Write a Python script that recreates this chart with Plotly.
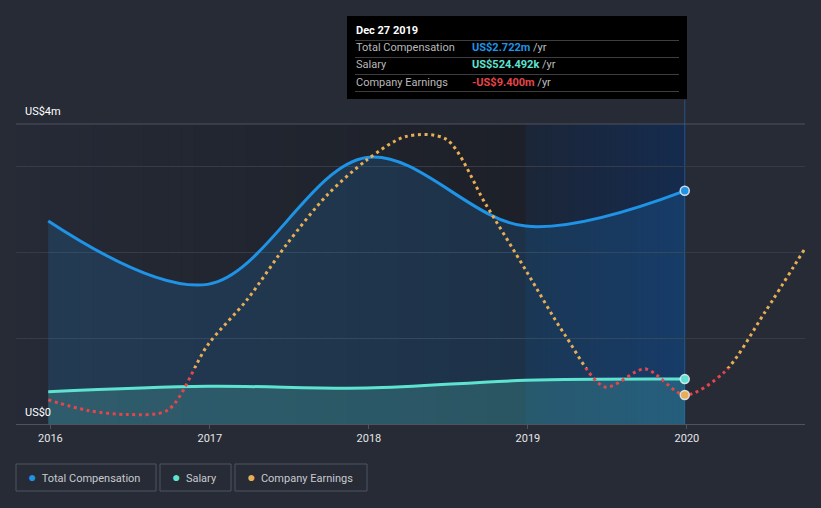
import plotly.graph_objects as go
import pandas as pd

# ---------------- data (US$ millions) ----------------
comp_dates = ["2015-12-27", "2016-12-27", "2017-12-27", "2018-12-27", "2019-12-27"]
total_comp = [2.37, 1.63, 3.11, 2.31, 2.722]
salary = [0.377, 0.44, 0.42, 0.51, 0.524]

earn_dates = ["2015-12-27", "2016-03-27", "2016-06-27", "2016-09-27", "2016-12-27",
              "2017-03-27", "2017-06-27", "2017-09-27", "2017-12-27", "2018-03-27",
              "2018-06-27", "2018-09-27", "2018-12-27", "2019-03-27", "2019-06-27",
              "2019-09-27", "2019-12-27", "2020-03-27", "2020-06-27", "2020-09-27"]
earnings = [-11.1, -14.8, -16.2, -14.6, 8.0,
            23.7, 43.2, 60.2, 72.4, 80.6,
            79.7, 56.8, 34.1, 11.5, -6.6,
            -0.35, -9.4, -1.4, 19.2, 41.4]

tick_dates = ["2016-01-01", "2017-01-01", "2018-01-01", "2019-01-01", "2020-01-01"]
tick_labels = ["2016", "2017", "2018", "2019", "2020"]
y_labels = ["US$4m", "US$0"]

hover_date = "Dec 27 2019"
hover_rows = [("Total Compensation", "US$2.722m"), ("Salary", "US$524.492k"),
              ("Company Earnings", "-US$9.400m")]

# ---------------- style ----------------
BG = "#262b36"
C_COMP = "#1f93e6"
C_SAL = "#5ee3d0"
C_EARN = "#e8ae55"
C_NEG = "#e5454b"
FONT = "Roboto"

W, H = 821, 508
ML, MR, MT, MB = 16, 16, 124, 84
PW, PH = W - ML - MR, H - MT - MB
ZERO_PX = 368          # pixel row of earnings zero
EARN_PPM = 2.872       # pixels per US$m for earnings
zf = (H - MB - ZERO_PX) / PH
y3_lo = -(H - MB - ZERO_PX) / EARN_PPM
y2_hi = (ZERO_PX - MT) / EARN_PPM


def px(x):
    return (x - ML) / PW


def py(y):
    return (H - MB - y) / PH


x_range = ["2015-10-14", "2020-09-28"]

fig = go.Figure()

# compensation area + line
fig.add_trace(go.Scatter(x=comp_dates, y=total_comp, mode="lines",
                         line=dict(color=C_COMP, width=3, shape="spline", smoothing=1.0),
                         fill="tozeroy", fillcolor="rgba(33,150,243,0.16)",
                         hoverinfo="skip", showlegend=False))
fig.add_trace(go.Scatter(x=comp_dates, y=salary, mode="lines",
                         line=dict(color=C_SAL, width=3, shape="spline", smoothing=1.0),
                         fill="tozeroy", fillcolor="rgba(94,230,208,0.20)",
                         hoverinfo="skip", showlegend=False))

# earnings: orange above zero (y2 domain), red below zero (y3 domain)
EARN_SMOOTH = 0.85
fig.add_trace(go.Scatter(x=earn_dates, y=earnings, mode="lines", yaxis="y2",
                         line=dict(color=C_EARN, width=3, dash="3px,3.6px",
                                   shape="spline", smoothing=EARN_SMOOTH),
                         hoverinfo="skip", showlegend=False))
fig.add_trace(go.Scatter(x=earn_dates, y=earnings, mode="lines", yaxis="y3",
                         line=dict(color=C_NEG, width=3, dash="3px,3.6px",
                                   shape="spline", smoothing=EARN_SMOOTH),
                         hoverinfo="skip", showlegend=False))

# hover markers at last comp date
mk_line = dict(color="rgba(225,235,245,0.9)", width=1.5)
fig.add_trace(go.Scatter(x=[comp_dates[-1]], y=[total_comp[-1]], mode="markers",
                         marker=dict(size=9, color=C_COMP, line=mk_line),
                         cliponaxis=False, hoverinfo="skip", showlegend=False))
fig.add_trace(go.Scatter(x=[comp_dates[-1]], y=[salary[-1]], mode="markers",
                         marker=dict(size=9, color=C_SAL, line=mk_line),
                         cliponaxis=False, hoverinfo="skip", showlegend=False))
fig.add_trace(go.Scatter(x=[earn_dates[16]], y=[earnings[16]], mode="markers", yaxis="y3",
                         marker=dict(size=9, color=C_EARN, line=mk_line),
                         cliponaxis=False, hoverinfo="skip", showlegend=False))

shapes = []


def strips(start, end, c0, c1, n):
    edges = pd.date_range(start, end, periods=n + 1)
    out = []
    for i in range(n):
        t = i / (n - 1)
        c = tuple(int(round(c0[k] + (c1[k] - c0[k]) * t)) for k in range(3))
        x1 = edges[i + 1] + pd.Timedelta(days=1) if i < n - 1 else edges[i + 1]
        out.append(dict(type="rect", xref="x", yref="paper",
                        x0=str(edges[i].date()), x1=str(x1.date()), y0=0, y1=1,
                        fillcolor="rgb(%d,%d,%d)" % c, line_width=0, layer="below"))
    return out


shapes += strips(x_range[0], comp_dates[3], (37, 42, 54), (29, 32, 40), 40)
shapes += strips(comp_dates[3], comp_dates[4], (27, 38, 56), (21, 43, 78), 30)

# top border line
shapes.append(dict(type="line", xref="paper", yref="paper", x0=0, x1=1, y0=1, y1=1,
                   line=dict(color="rgb(78,83,96)", width=1), layer="below"))
# hover vertical line
shapes.append(dict(type="line", xref="x", yref="paper", x0=comp_dates[-1], x1=comp_dates[-1],
                   y0=0, y1=py(100), line=dict(color="rgba(40,110,190,0.6)", width=1),
                   layer="below"))

# tooltip box
shapes.append(dict(type="rect", xref="paper", yref="paper", x0=px(347), x1=px(687),
                   y0=py(99), y1=py(16), fillcolor="#000000", line_width=0))
for ys in [40.5, 57.5, 74.5, 91.5]:
    shapes.append(dict(type="line", xref="paper", yref="paper", x0=px(355), x1=px(679),
                       y0=py(ys), y1=py(ys), line=dict(color="rgb(62,62,62)", width=1)))

annotations = []
annotations.append(dict(xref="paper", yref="paper", x=px(354), y=py(31), xanchor="left",
                        yanchor="middle", showarrow=False, text="<b>%s</b>" % hover_date,
                        font=dict(family=FONT, size=11, color="#ffffff")))
val_colors = [C_COMP, C_SAL, C_NEG]
for i, (lab, val) in enumerate(hover_rows):
    yc = 48 + i * 17
    annotations.append(dict(xref="paper", yref="paper", x=px(354), y=py(yc), xanchor="left",
                            yanchor="middle", showarrow=False, text=lab,
                            font=dict(family=FONT, size=11, color="rgb(185,185,185)")))
    annotations.append(dict(xref="paper", yref="paper", x=px(470), y=py(yc), xanchor="left",
                            yanchor="middle", showarrow=False,
                            text="<b><span style='color:%s'>%s</span></b> /yr" % (val_colors[i], val),
                            font=dict(family=FONT, size=11, color="rgb(190,190,190)")))

# y labels
annotations.append(dict(xref="paper", yref="paper", x=px(23), y=py(112), xanchor="left",
                        yanchor="middle", showarrow=False, text=y_labels[0],
                        font=dict(family=FONT, size=11, color="#ffffff")))
annotations.append(dict(xref="paper", yref="paper", x=px(23), y=py(412), xanchor="left",
                        yanchor="middle", showarrow=False, text=y_labels[1],
                        font=dict(family=FONT, size=11, color="#ffffff")))

# legend boxes
legend_items = [("Total Compensation", C_COMP, 16, 156),
                ("Salary", C_SAL, 160, 231),
                ("Company Earnings", C_EARN, 235, 367)]
for name, col, x0, x1 in legend_items:
    shapes.append(dict(type="rect", xref="paper", yref="paper", x0=px(x0), x1=px(x1),
                       y0=py(491), y1=py(464), line=dict(color="rgb(80,85,98)", width=1),
                       fillcolor="rgba(0,0,0,0)"))
    annotations.append(dict(xref="paper", yref="paper", x=px(x0 + 10), y=py(477.5),
                            xanchor="left", yanchor="middle", showarrow=False,
                            text="<span style='color:%s;font-size:14px'>●</span>  %s" % (col, name),
                            font=dict(family=FONT, size=11, color="rgb(200,202,206)")))

fig.update_layout(
    width=W, height=H,
    margin=dict(l=ML, r=MR, t=MT, b=MB),
    paper_bgcolor=BG, plot_bgcolor="rgba(0,0,0,0)",
    showlegend=False,
    xaxis=dict(type="date", range=x_range, tickvals=tick_dates, ticktext=tick_labels,
               showgrid=False, zeroline=False, showline=True, linecolor="rgb(78,83,96)",
               linewidth=1, ticks="outside", ticklen=4, tickcolor="rgb(78,83,96)",
               tickfont=dict(family=FONT, size=11, color="#e6e6e6"), fixedrange=True),
    yaxis=dict(range=[0, (H - MB - MT) / 85.67], tickvals=[0, 1, 2, 3], showticklabels=False,
               showgrid=True, gridcolor="rgb(54,59,71)", gridwidth=1, zeroline=False,
               domain=[0, 1], fixedrange=True),
    yaxis2=dict(range=[0, y2_hi], domain=[zf, 1], anchor="x", visible=False,
                showgrid=False, fixedrange=True),
    yaxis3=dict(range=[y3_lo, 0], domain=[0, zf], anchor="x", visible=False,
                showgrid=False, fixedrange=True),
    shapes=shapes,
    annotations=annotations,
    font=dict(family=FONT),
)

fig.write_html("out.html", config={"displayModeBar": False},
               post_script="document.body.style.margin='0';document.body.style.background='%s';" % BG)
